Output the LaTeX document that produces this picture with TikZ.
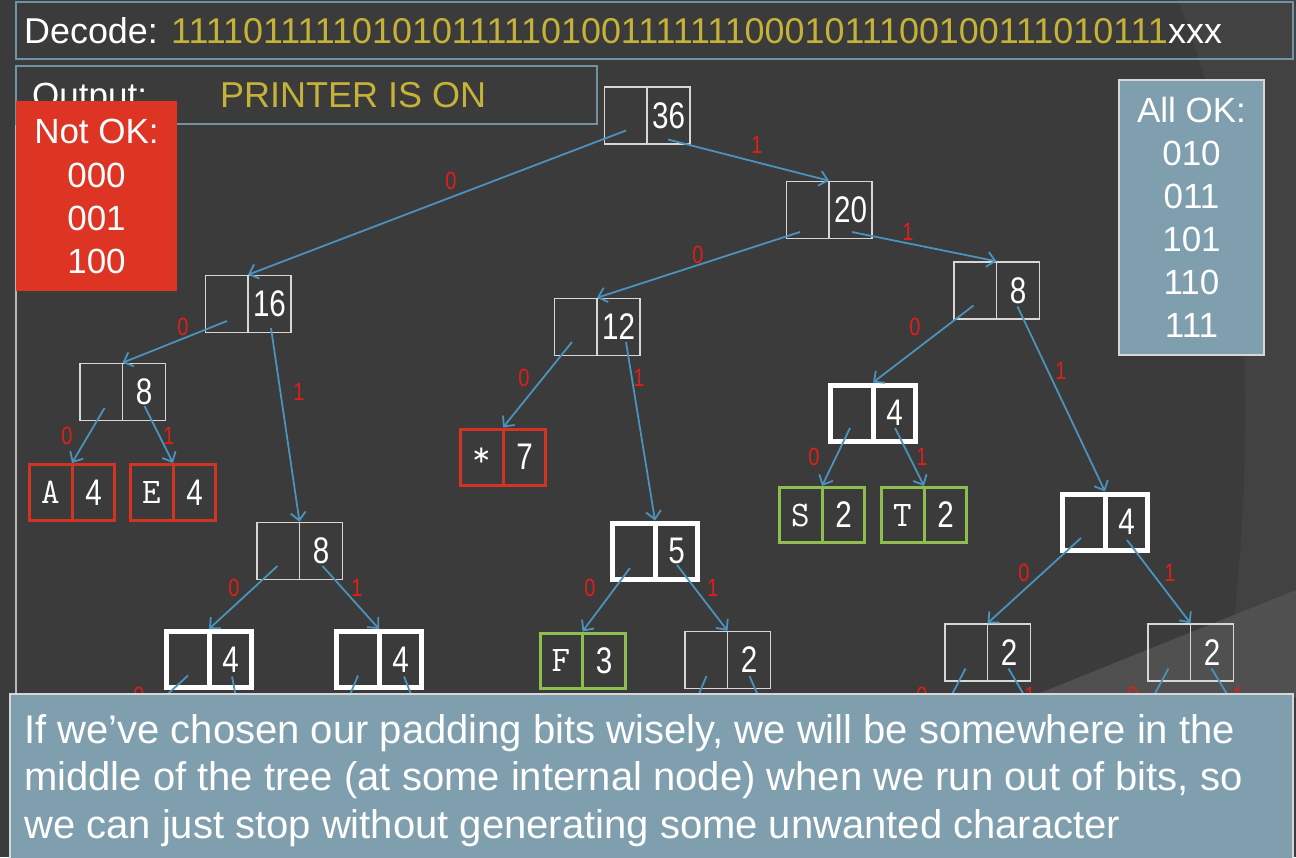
\documentclass[tikz,border=0pt]{standalone}
\usepackage{fontspec}
\setmainfont{Liberation Sans}
\newfontfamily\narrowfont[FakeStretch=0.8]{Liberation Sans}
\usetikzlibrary{arrows.meta,calc}
\definecolor{bg}{RGB}{59,59,59}
\definecolor{bgl}{RGB}{66,66,66}
\definecolor{bgw}{RGB}{80,80,80}
\definecolor{framec}{RGB}{112,146,162}
\definecolor{panel}{RGB}{127,159,174}
\definecolor{notok}{RGB}{222,52,35}
\definecolor{gold}{RGB}{197,178,56}
\definecolor{edgec}{RGB}{75,146,188}
\definecolor{lblred}{RGB}{225,30,25}
\definecolor{leafred}{RGB}{210,52,35}
\definecolor{leafgreen}{RGB}{143,190,80}
\definecolor{boxgray}{RGB}{215,215,215}
\tikzset{
  tbox/.style={draw=boxgray, line width=1.5pt, minimum width=85.5pt, minimum height=57pt, inner sep=0pt},
  bbox/.style={draw=white, line width=5pt, minimum width=85pt, minimum height=56pt, inner sep=0pt},
  rbox/.style={draw=leafred, line width=3pt, minimum width=85pt, minimum height=56pt, inner sep=0pt},
  gbox/.style={draw=leafgreen, line width=3pt, minimum width=85pt, minimum height=55pt, inner sep=0pt},
  lettxt/.style={text=white, font=\ttfamily\fontsize{36}{36}\selectfont, inner sep=0pt},
  numtxt/.style={text=white, font=\narrowfont\fontsize{37}{37}\selectfont, inner sep=0pt},
  edge/.style={draw=edgec, line width=1.8pt, -{Straight Barb[length=8pt,width=15pt]}},
  lbl/.style={text=lblred, font=\narrowfont\fontsize{25}{25}\selectfont, inner sep=0pt},
  hlbl/.style={lbl, text height=8pt, text depth=0pt},
  listtxt/.style={text=white, font=\fontsize{35}{35}\selectfont, inner sep=0pt, anchor=base},
  captxt/.style={text=white, font=\fontsize{40}{40}\selectfont, inner sep=0pt, anchor=base west},
}
\newcommand\huff[6]{%
  \node[#4] (#1) at (#2,#3) {};
  \draw[#4] (#1.north) -- (#1.south);
  \node[lettxt] (#1-l) at ($(#1.center)+(-21.5,0)$) {#5};
  \node[numtxt] (#1-n) at ($(#1.center)+(21.5,0)$) {#6};
}
\begin{document}
\begin{tikzpicture}[x=1pt,y=-1pt]
\useasboundingbox (0,0) rectangle (1296,857);
% background
\fill[bg] (0,0) rectangle (1296,857);
\fill[bgl] (1178,0) .. controls (1250,180) and (1262,420) .. (1225,697) -- (1296,697) -- (1296,0) -- cycle;
\fill[bgw] (1030,697) -- (1296,590) -- (1296,697) -- cycle;
% frame lines
\draw[boxgray!80!bg, line width=1.2pt] (16,124) -- (16,694);
\draw[framec, line width=1.5pt] (16,2) rectangle (1293,59);
\draw[framec, line width=1.5pt] (16,66) rectangle (597,124);
% Decode
\node[anchor=base west, inner sep=0pt, font=\fontsize{35.9}{35.9}\selectfont, text=white] (decode) at (24,43.5)
  {Decode: \textcolor{gold}{11110111110101011111010011111110001011100100111010111}xxx};
% Output
\node[anchor=base west, inner sep=0pt, font=\fontsize{35}{35}\selectfont, text=white] (outlbl) at (32,107.5) {Output:};
\node[anchor=base west, inner sep=0pt, font=\fontsize{36}{36}\selectfont, text=gold] (outtxt) at (220,107.5) {PRINTER IS ON};
% Not OK
\fill[notok] (16,101) rectangle (177,291);
\node[listtxt] (nok0) at (96.5,143.5) {Not OK:};
\node[listtxt] (nok1) at (96.5,187.5) {000};
\node[listtxt] (nok2) at (96.5,230.5) {001};
\node[listtxt] (nok3) at (96.5,273.5) {100};
% All OK
\draw[fill=panel, draw=boxgray, line width=1.5pt] (1119,80) rectangle (1264,355);
\node[listtxt] (aok0) at (1191.5,122.5) {All OK:};
\node[listtxt] (aok1) at (1191.5,165.5) {010};
\node[listtxt] (aok2) at (1191.5,208.5) {011};
\node[listtxt] (aok3) at (1191.5,251.5) {101};
\node[listtxt] (aok4) at (1191.5,294.5) {110};
\node[listtxt] (aok5) at (1191.5,337.5) {111};
% tree nodes
\huff{n36}{647}{115.5}{tbox}{}{36}
\huff{n20}{829}{210}{tbox}{}{20}
\huff{n16}{248}{304}{tbox}{}{16}
\huff{n12}{597}{327}{tbox}{}{12}
\huff{n8r}{996.5}{290.5}{tbox}{}{8}
\huff{n8l}{122.5}{392}{tbox}{}{8}
\huff{nA}{72}{492.5}{rbox}{A}{4}
\huff{nE}{173}{492.5}{rbox}{E}{4}
\huff{nstar}{503}{457}{rbox}{*}{7}
\huff{n4st}{873}{413}{bbox}{}{4}
\huff{nS}{822}{515}{gbox}{S}{2}
\huff{nT}{924}{515}{gbox}{T}{2}
\huff{n4r}{1105}{522}{bbox}{}{4}
\huff{n8m}{299.5}{551}{tbox}{}{8}
\huff{n5}{655}{551}{bbox}{}{5}
\huff{n4a}{209}{659.5}{bbox}{}{4}
\huff{n4b}{379}{659.5}{bbox}{}{4}
\huff{nF}{582.5}{660.5}{gbox}{F}{3}
\huff{n2a}{727.5}{660}{tbox}{}{2}
\huff{n2b}{987.5}{652.5}{tbox}{}{2}
\huff{n2c}{1190.5}{652.5}{tbox}{}{2}
% hidden children (covered by caption)
\coordinate (h4a0) at (96,760);
\coordinate (h4a1) at (248,760);
\coordinate (h4b0) at (323,760);
\coordinate (h4b1) at (437,760);
\coordinate (h2a0) at (671,760);
\coordinate (h2a1) at (786,760);
\coordinate (h2b0) at (918,760);
\coordinate (h2b1) at (1062,760);
\coordinate (h2c0) at (1119,760);
\coordinate (h2c1) at (1267,760);
% edges
\draw[edge] ($(n36.center)+(-21,15)$) -- (n16.north);
\draw[edge] ($(n36.center)+(21,24)$) -- (n20.north);
\draw[edge] ($(n20.center)+(-29,22)$) -- (n12.north);
\draw[edge] ($(n20.center)+(23,22)$) -- (n8r.north);
\draw[edge] ($(n16.center)+(-21,17)$) -- (n8l.north);
\draw[edge] ($(n16.center)+(23,24)$) -- (n8m.north);
\draw[edge] ($(n8l.center)+(-18,16)$) -- (nA.north);
\draw[edge] ($(n8l.center)+(22,14)$) -- (nE.north);
\draw[edge] ($(n12.center)+(-25,15)$) -- (nstar.north);
\draw[edge] ($(n12.center)+(29,15)$) -- (n5.north);
\draw[edge] ($(n8r.center)+(-23,15)$) -- (n4st.north);
\draw[edge] ($(n8r.center)+(21,16)$) -- (n4r.north);
\draw[edge] ($(n4st.center)+(-23,15)$) -- (nS.north);
\draw[edge] ($(n4st.center)+(22,15)$) -- (nT.north);
\draw[edge] ($(n4r.center)+(-24,16)$) -- (n2b.north);
\draw[edge] ($(n4r.center)+(22,18)$) -- (n2c.north);
\draw[edge] ($(n8m.center)+(-22,15)$) -- (n4a.north);
\draw[edge] ($(n8m.center)+(23,15)$) -- (n4b.north);
\draw[edge] ($(n5.center)+(-25,17)$) -- (nF.north);
\draw[edge] ($(n5.center)+(22,14)$) -- (n2a.north);
\draw[edge] ($(n4a.center)+(-21,16)$) -- (h4a0);
\draw[edge] ($(n4a.center)+(23,17)$) -- (h4a1);
\draw[edge] ($(n4b.center)+(-21,16)$) -- (h4b0);
\draw[edge] ($(n4b.center)+(25,17)$) -- (h4b1);
\draw[edge] ($(n2a.center)+(-21,16)$) -- (h2a0);
\draw[edge] ($(n2a.center)+(22,16)$) -- (h2a1);
\draw[edge] ($(n2b.center)+(-22,16)$) -- (h2b0);
\draw[edge] ($(n2b.center)+(21,16)$) -- (h2b1);
\draw[edge] ($(n2c.center)+(-22,16)$) -- (h2c0);
\draw[edge] ($(n2c.center)+(21,16)$) -- (h2c1);
% edge labels
\node[lbl] (l1) at (451,181) {0};
\node[lbl] (l2) at (757,145) {1};
\node[lbl] (l3) at (698,255) {0};
\node[lbl] (l4) at (908,232) {1};
\node[lbl] (l5) at (183,327) {0};
\node[lbl] (l6) at (299,392) {1};
\node[lbl] (l7) at (67,436) {0};
\node[lbl] (l8) at (169,436) {1};
\node[lbl] (l9) at (524,378) {0};
\node[lbl] (l10) at (639,378) {1};
\node[lbl] (l11) at (915,327) {0};
\node[lbl] (l12) at (1061,371) {1};
\node[lbl] (l13) at (814,457) {0};
\node[lbl] (l14) at (922,457) {1};
\node[lbl] (l15) at (234,588) {0};
\node[lbl] (l16) at (357,588) {1};
\node[lbl] (l17) at (590,588) {0};
\node[lbl] (l18) at (713,588) {1};
\node[lbl] (l19) at (1024,573) {0};
\node[lbl] (l20) at (1170,573) {1};
% labels mostly hidden behind the caption: only their tops show
\begin{scope}
\clip (0,680) rectangle (1296,694);
\node[hlbl] (l21) at (139,700) {0};
\node[hlbl] (l22) at (922,700) {0};
\node[hlbl] (l23) at (1030,700) {1};
\node[hlbl] (l24) at (1133,700) {0};
\node[hlbl] (l25) at (1238,700) {1};
\end{scope}
% caption
\draw[fill=panel, draw=boxgray, line width=1.5pt] (10,694) rectangle (1293,860);
\node[captxt] (cap1) at (24,743) {If we’ve chosen our padding bits wisely, we will be somewhere in the};
\node[captxt] (cap2) at (24,790.5) {middle of the tree (at some internal node) when we run out of bits, so};
\node[captxt] (cap3) at (24,838) {we can just stop without generating some unwanted character};
\end{tikzpicture}
\end{document}
